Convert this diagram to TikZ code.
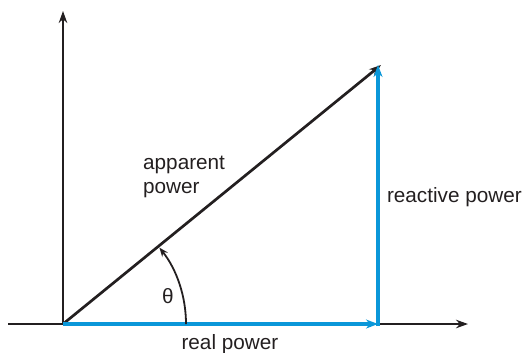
\documentclass[tikz,border=0pt]{standalone}
\usepackage{fontspec}
\setmainfont{Liberation Sans}
\usepackage{xcolor}
\usepackage{tikz}
\usetikzlibrary{arrows.meta,positioning,calc}
\definecolor{phasorblue}{HTML}{0A97D9}
\definecolor{inkblack}{HTML}{231F20}
\tikzset{
  axisline/.style={-{Stealth[length=12bp,width=8.5bp]}, line width=2.7bp, draw=inkblack},
  powerline/.style={-{Stealth[length=12bp,width=9bp]}, line width=4bp, draw=phasorblue},
  labeltext/.style={font=\fontsize{20.8}{23.5}\selectfont, text=inkblack, inner sep=0pt}
}

\begin{document}
\begin{tikzpicture}[x=1bp,y=-1bp]
\useasboundingbox (0,0) rectangle (525,352);
% points of the power triangle
\coordinate (xstart) at (8,324);
\coordinate (xend) at (468,324);
\coordinate (origin) at (63,324);
\coordinate (ytop) at (63,11);
\coordinate (corner) at (378,324);
\coordinate (apex) at (381,65);

% axes
\draw[axisline] (xstart) -- (xend);
\draw[axisline] (origin) -- (ytop);

% triangle
\draw[axisline] (origin) -- (apex);
\draw[powerline] (origin) -- node[labeltext, below=8bp, pos=0.53] (realp) {real power} (corner);
\draw[powerline, shorten <=-2bp] (corner) -- node[labeltext, right=7bp, pos=0.49] (reactp) {reactive power} (corner |- apex);

\node[labeltext, align=left, anchor=north west] (apparentp) at (143,156) {apparent\\power};

% angle
\draw[-{Stealth[length=9bp,width=7bp]}, line width=1.8bp, draw=inkblack]
  ($(origin)+(123,0)$) arc[start angle=0, end angle=-38.4, radius=123];
\node[labeltext] (theta) at (168,296) {θ};
\end{tikzpicture}
\end{document}
